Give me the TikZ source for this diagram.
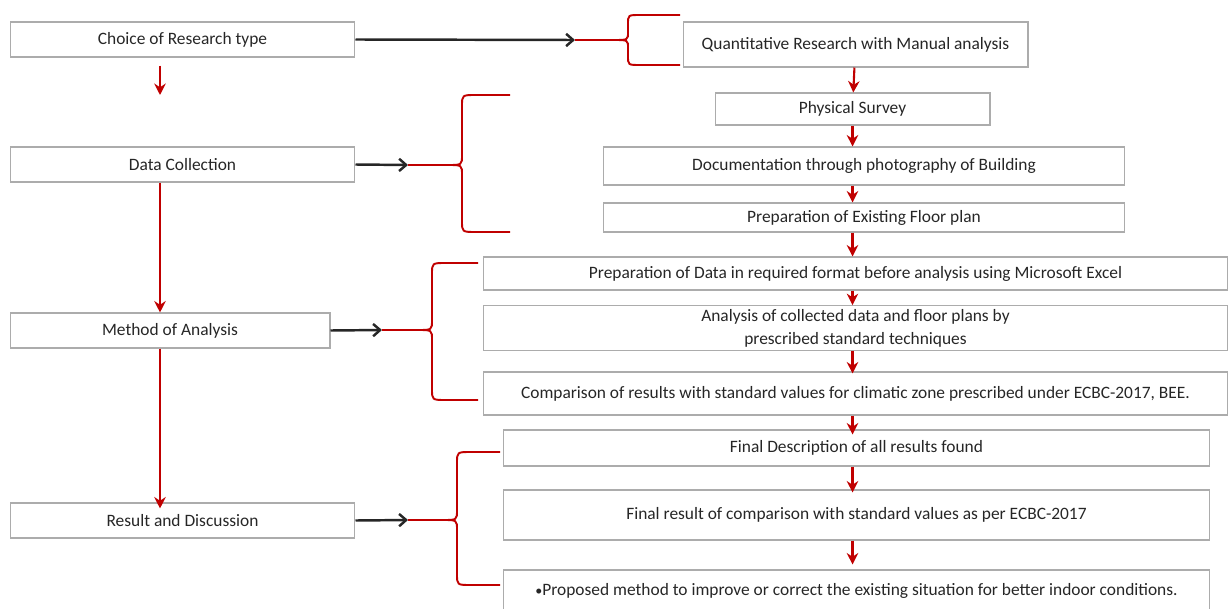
\documentclass[tikz,border=0pt]{standalone}
\usepackage{fontspec}
\setmainfont{Carlito}
\usepackage{tikz}
\usetikzlibrary{arrows.meta}
\definecolor{flowred}{RGB}{192,0,0}
\tikzset{>=Stealth}
\tikzstyle{box} = [draw=gray!65, line width=0.6pt, inner sep=2pt,
align=center, text=black!85, font=\fontsize{9.9}{13}\selectfont]
\tikzstyle{line} = [draw, flowred, line width=1.2pt, -{Stealth[length=6.5pt,width=6.5pt]}]
\tikzstyle{feed} = [draw, black!85, line width=1.4pt, -{Straight Barb[length=4pt,width=7pt]}]
\tikzstyle{brace} = [draw, flowred, line width=1.1pt]

\begin{document}
\begin{tikzpicture}[x=0.02cm, y=-0.02cm]
	\useasboundingbox (0,0) rectangle (1229,608);
	%% Left column
	\node [box, minimum width=6.9cm, minimum height=0.7cm] (type) at (182.5,39.5) {Choice of Research type};
	\node [box, minimum width=6.9cm, minimum height=0.7cm] (collect) at (182.5,164.5) {Data Collection};
	\node [box, minimum width=6.4cm, minimum height=0.7cm] (method) at (170,330.5) {Method of Analysis};
	\node [box, minimum width=6.9cm, minimum height=0.7cm] (result) at (182.5,520.5) {Result and Discussion};
	%% Right column
	\node [box, minimum width=6.9cm, minimum height=0.9cm] (quant) at (855.5,44.5) {Quantitative Research with Manual analysis};
	\node [box, minimum width=5.5cm, minimum height=0.64cm] (survey) at (852.5,109) {Physical Survey};
	\node [box, minimum width=10.44cm, minimum height=0.76cm] (photo) at (864,166) {Documentation through photography of Building};
	\node [box, minimum width=10.44cm, minimum height=0.58cm] (floor) at (864,217.5) {Preparation of Existing Floor plan};
	\node [box, minimum width=14.9cm, minimum height=0.66cm] (excel) at (855.5,273.5) {Preparation of Data in required format before analysis using Microsoft Excel};
	\node [box, minimum width=14.9cm, minimum height=0.88cm] (analysis) at (855.5,328) {Analysis of collected data and floor plans by\\prescribed standard techniques};
	\node [box, minimum width=14.9cm, minimum height=0.86cm] (compare) at (855.5,393.5) {Comparison of results with standard values for climatic zone prescribed under ECBC-2017, BEE.};
	\node [box, minimum width=14.14cm, minimum height=0.72cm] (final) at (856.5,448) {Final Description of all results found};
	\node [box, minimum width=14.14cm, minimum height=1.0cm] (finalres) at (856.5,515) {Final result of comparison with standard values as per ECBC-2017};
	\node [box, minimum width=14.14cm, minimum height=0.84cm] (proposed) at (856.5,591) {{\footnotesize•}Proposed method to improve or correct the existing situation for better indoor conditions.};
	%% Brace tips
	\coordinate (tip1) at (575,40);
	\coordinate (tip2) at (408,165);
	\coordinate (tip3) at (382,330);
	\coordinate (tip4) at (408,520);
	\coordinate (down1) at (160,95);
	%% Left arrows
	\path [line] (type.south -| down1) ++(0,8) -- (down1);
	\path [line] (collect.south -| down1) -- (method.north -| down1);
	\path [line] (method.south -| down1) -- ([yshift=-0.12cm]result.north -| down1);
	%% Black arrows
	\path [feed] (type.east) -- (tip1);
	\path [feed] (collect.east) -- (tip2);
	\path [feed] (method.east) -- (tip3);
	\path [feed] (result.east) -- (tip4);
	%% Braces
	\draw [brace] (tip1) -- (614,40) .. controls (628,40) .. (628,32) -- (628,24) .. controls (628,15) .. (640,15) -- (680,15);
	\draw [brace] (614,40) .. controls (628,40) .. (628,48) -- (628,56) .. controls (628,65) .. (640,65) -- (680,65);
	\draw [brace] (tip2) -- (448,165) .. controls (462,165) .. (462,155) -- (462,106) .. controls (462,95) .. (476,95) -- (510,95);
	\draw [brace] (448,165) .. controls (462,165) .. (462,175) -- (462,221) .. controls (462,232) .. (476,232) -- (510,232);
	\draw [brace] (tip3) -- (418,330) .. controls (432,330) .. (432,320) -- (432,274) .. controls (432,263) .. (446,263) -- (478,263);
	\draw [brace] (418,330) .. controls (432,330) .. (432,340) -- (432,389) .. controls (432,400) .. (446,400) -- (478,400);
	\draw [brace] (tip4) -- (443,520) .. controls (457,520) .. (457,510) -- (457,463) .. controls (457,452) .. (471,452) -- (500,452);
	\draw [brace] (443,520) .. controls (457,520) .. (457,530) -- (457,574) .. controls (457,585) .. (471,585) -- (500,585);
	%% Red arrows
	\path [line] (quant) -- (survey);
	\path [line] (survey) -- (photo.north -| survey);
	\path [line] (photo.south -| survey) -- (floor.north -| survey);
	\path [line] (floor.south -| survey) -- (excel.north -| survey);
	\path [line] (excel.south -| survey) -- (analysis.north -| survey);
	\path [line] (analysis.south -| survey) -- ([yshift=-0.04cm]compare.north -| survey);
	\path [line] (compare.south -| survey) -- ([yshift=-0.1cm]final.north -| survey);
	\path [line] (final.south -| survey) -- ([yshift=-0.06cm]finalres.north -| survey);
	\path [line] (finalres.south -| survey) -- ([yshift=0.1cm]proposed.north -| survey);
\end{tikzpicture}
\end{document}
